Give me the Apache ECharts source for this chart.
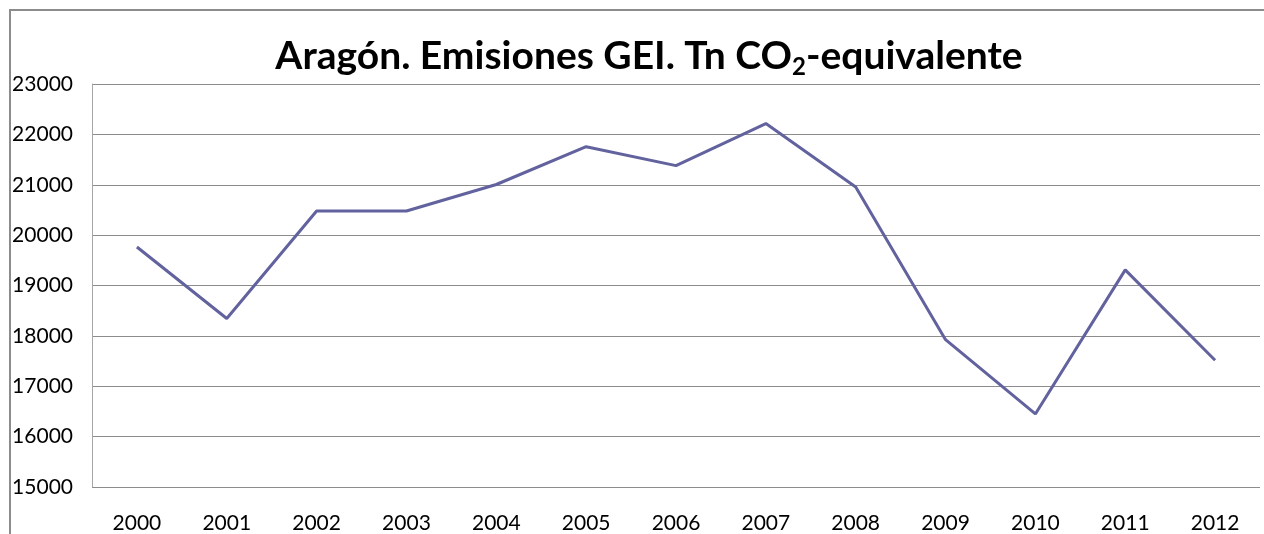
<!DOCTYPE html>
<html>
<head>
<meta charset="utf-8">
<script src="https://cdn.jsdelivr.net/npm/echarts@6/dist/echarts.min.js"></script>
<style>
    html, body { margin: 0; padding: 0; background: #fff; }
    #chart { width: 1264px; height: 534px; }
</style>
</head>
<body>
<div id="chart"></div>
<script>
// Years on the x axis
var years = ['2000', '2001', '2002', '2003', '2004', '2005', '2006', '2007', '2008', '2009', '2010', '2011', '2012'];
// Emissions, Tn CO2-equivalente
var emissions = [19765, 18345, 20480, 20480, 21005, 21755, 21380, 22215, 20955, 17925, 16450, 19310, 17515];

var chart = echarts.init(document.getElementById('chart'));

chart.setOption({
    backgroundColor: '#ffffff',
    animation: false,
    textStyle: { fontFamily: 'Lato' },
    // outer chart frame, cut off on the right and bottom
    graphic: [{
        type: 'rect',
        shape: { x: 10, y: 10, width: 1400, height: 700 },
        style: { fill: 'none', stroke: '#8c8c8c', lineWidth: 2 },
        silent: true
    }],
    title: {
        text: '{a|Aragón. Emisiones GEI. Tn CO}{b|2}{a|-equivalente}',
        left: 644,
        top: 28,
        textAlign: 'center',
        textStyle: {
            rich: {
                a: { fontFamily: 'Lato', fontWeight: 'bold', fontSize: 39, color: '#000', lineHeight: 46 },
                b: { fontFamily: 'Lato', fontWeight: 'bold', fontSize: 24, color: '#000', lineHeight: 27, verticalAlign: 'bottom' }
            }
        }
    },
    grid: {
        left: 92,
        right: 4,
        top: 84,
        bottom: 45
    },
    xAxis: {
        type: 'category',
        data: years,
        boundaryGap: true,
        axisLine: { show: false },
        axisTick: { show: false },
        axisLabel: {
            color: '#000',
            fontSize: 21,
            margin: 26
        }
    },
    yAxis: {
        type: 'value',
        min: 15000,
        max: 23000,
        interval: 1000,
        axisLine: { show: true, lineStyle: { color: '#a6a6a6', width: 1 } },
        axisTick: { show: false },
        axisLabel: {
            color: '#000',
            fontSize: 21,
            margin: 19,
            formatter: function(v) { return String(v); }
        },
        splitLine: { lineStyle: { color: '#8c8c8c', width: 1 } }
    },
    series: [{
        name: 'Emisiones',
        type: 'line',
        data: emissions,
        symbol: 'none',
        lineStyle: { color: '#62629e', width: 3 }
    }]
});
</script>
</body>
</html>
